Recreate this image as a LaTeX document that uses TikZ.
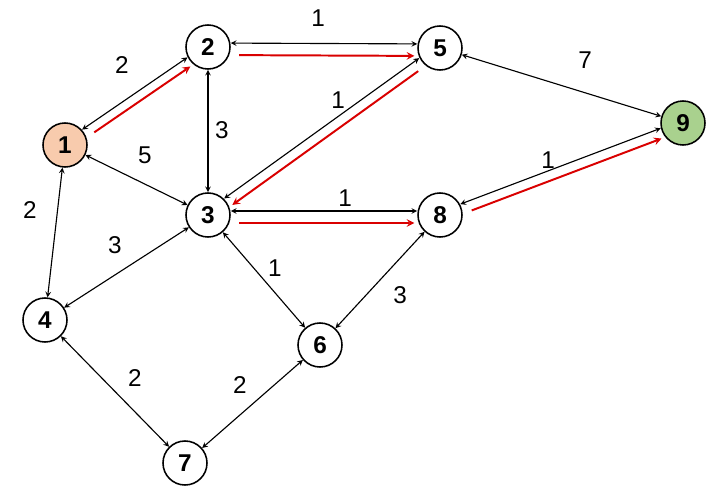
\documentclass[tikz,border=0pt]{standalone}
\usepackage{fontspec}
\setsansfont{Liberation Sans}
\begin{document}
\begin{tikzpicture}[x=0.025cm,y=-0.025cm,
  nd/.style={circle,draw,line width=1.1pt,minimum size=1.1cm,inner sep=0pt,font=\sffamily\bfseries\LARGE,fill=white},
  dbl/.style={<->,>=stealth,line width=0.8pt,black},
  rd/.style={->,>=stealth,line width=1.4pt,red!85!black,shorten <=6pt,shorten >=2pt},
  lb/.style={font=\sffamily\LARGE}]
\useasboundingbox (0,0) rectangle (720,498);
\definecolor{orng}{RGB}{248,203,173}
\definecolor{grn}{RGB}{169,209,142}
\node[nd,fill=orng] (n1) at (65,145) {1};
\node[nd] (n2) at (208,47) {2};
\node[nd] (n5) at (440,48) {5};
\node[nd,fill=grn] (n9) at (683,123) {9};
\node[nd] (n3) at (208,215) {3};
\node[nd] (n8) at (440,215) {8};
\node[nd] (n4) at (45,320) {4};
\node[nd] (n6) at (320,345) {6};
\node[nd] (n7) at (185,463) {7};
% pairs with red
\draw[dbl,transform canvas={shift={(-1.7,-2.5)}}] (n1) -- (n2);
\draw[rd,transform canvas={shift={(3.5,5)}}] (n1) -- (n2);
\draw[dbl,transform canvas={shift={(0,-4)}}] (n2) -- (n5);
\draw[rd,transform canvas={shift={(0,8)}}] (n2) -- (n5);
\draw[dbl,transform canvas={shift={(-2.3,-3.2)}}] (n5) -- (n3);
\draw[rd,transform canvas={shift={(3.5,4.9)}}] (n5) -- (n3);
\draw[dbl,transform canvas={shift={(0,-4)}}] (n3) -- (n8);
\draw[rd,transform canvas={shift={(0,8)}}] (n3) -- (n8);
\draw[dbl,transform canvas={shift={(-1,-2.8)}}] (n8) -- (n9);
\draw[rd,transform canvas={shift={(2.5,6.5)}}] (n8) -- (n9);
% others
\draw[dbl] (n5) -- (n9);
\draw[dbl] (n1) -- (n3);
\draw[dbl] (n2) -- (n3);
\draw[dbl] (n1) -- (n4);
\draw[dbl] (n3) -- (n4);
\draw[dbl] (n3) -- (n6);
\draw[dbl] (n8) -- (n6);
\draw[dbl] (n4) -- (n7);
\draw[dbl] (n7) -- (n6);
% labels
\node[lb] (l12) at (122,65) {2};
\node[lb] (l25) at (318,18) {1};
\node[lb] (l59) at (585,60) {7};
\node[lb] (l23) at (222,130) {3};
\node[lb] (l13) at (145,155) {5};
\node[lb] (l53) at (338,100) {1};
\node[lb] (l38) at (345,198) {1};
\node[lb] (l89) at (548,160) {1};
\node[lb] (l14) at (30,210) {2};
\node[lb] (l34) at (115,245) {3};
\node[lb] (l36) at (275,268) {1};
\node[lb] (l86) at (400,295) {3};
\node[lb] (l47) at (135,378) {2};
\node[lb] (l76) at (240,385) {2};
\end{tikzpicture}
\end{document}
